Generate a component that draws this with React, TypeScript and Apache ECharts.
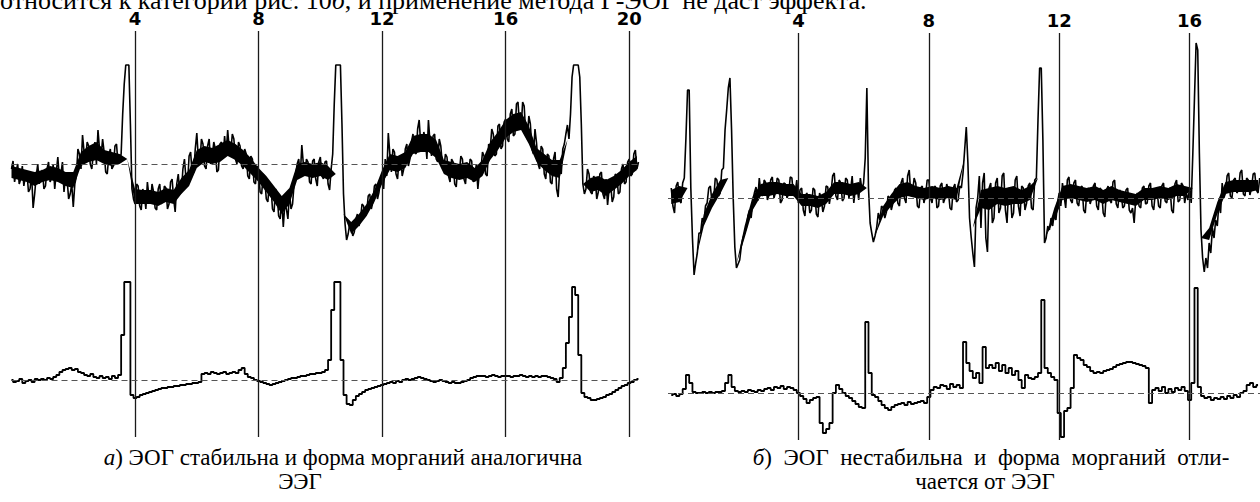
import React, { useEffect, useRef } from "react";
import * as echarts from "echarts";

// time ticks (s) shown above each panel
const leftTicks = [4, 8, 12, 16, 20];
const rightTicks = [4, 8, 12, 16];

// sampling steps (s) of the traces
const eegStep = 0.05;
const eogStep = 0.1;
const coreStep = 0.25;
const leftT0 = 0.0;
const rightT0 = 0.1;

// panel a: upper trace (EEG, noisy) — amplitude above its dashed baseline, one row per second
const leftEEG = [
  -5, 3, -18, -8, 0, -20, -15, -2, -22, -12, -8, -28, -25, -10, -44, -30, -12, 0, -20, -10,
  -6, -25, -22, -5, 2, -18, -14, 0, -25, -8, 7, -15, -10, 2, -28, -12, -15, -35, -30, -20,
  -43, -20, -12, 15, 10, -5, 29, 12, 5, 22, 18, 0, -5, 10, 22, 0, 34, 15, 8, 25,
  12, -8, -10, 8, 15, -5, -2, 18, 20, 0, 5, 10, 50, 80, 99, 99, 99, 40, -25, -35,
  -40, -20, -22, -42, -46, -25, -30, -45, -18, -32, -38, -20, -28, -44, -46, -25, -20, -40, -35, -22,
  -24, -45, -40, -18, -15, -35, -48, -20, -10, -30, -28, -5, 5, -15, -20, 8, 12, -10, -8, 15,
  31, 5, 2, 25, 20, -2, -5, 18, 25, 0, 8, 22, 15, -8, -6, 20, 22, 5, 28, 10,
  34, 15, 12, 30, 25, 5, 0, 22, 18, -2, -5, 15, 10, -12, -15, 8, 5, -18, -20, -2,
  -8, -28, -30, -10, -15, -35, -38, -18, -22, -45, -48, -25, -30, -52, -55, -35, -63, -40, -45, -55,
  -28, -45, -40, -20, -10, 0, 5, -12, 19, 0, -10, 5, 2, -18, -20, 3, 5, -15, -22, 2,
  7, -12, -15, 2, 3, -20, -26, -5, 10, 60, 99, 99, 99, 99, 40, -30, -60, -76, -70, -60,
  -62, -72, -68, -55, -50, -62, -55, -40, -42, -52, -48, -32, -30, -45, -38, -22, -20, -35, -28, -15,
  -10, -25, 5, -12, 31, 10, -8, 15, 12, -10, -15, 5, 8, -12, -5, 15, 20, -2, 5, 22,
  30, 12, 10, 35, 44, 20, 15, 32, 25, 5, 44, 22, 8, 28, 30, 5, 2, 25, 18, 0,
  -5, 10, 7, -12, -18, 5, 2, -20, -23, -2, -8, 8, 5, -15, -20, 0, -10, 5, 3, -18,
  -15, 0, -25, -8, -5, 12, 8, -10, -12, 20, 15, 35, 30, 8, 10, 38, 40, 15, 18, 42,
  45, 25, 22, 50, 55, 28, 30, 60, 62, 38, 35, 62, 58, 30, 25, 48, 40, 15, 10, 35,
  21, 0, -5, 18, 15, -10, -15, 10, 8, -18, -20, 5, 12, -25, -33, -5, -10, 15, 20, 30,
  39, 25, 50, 87, 99, 99, 99, 99, 87, 40, -20, -30, -25, -5, -10, -28, -30, -12, -15, -35,
  -28, -10, -8, -30, -35, -15, -41, -25, -20, -38, -33, -10, -12, -30, -28, -5, 0, -20, -18, 2,
  5, -12, -10, 10, 14, -5, 2,
];

// panel a, upper trace: solid dark core of the noise band (low / high edge), every 0.25 s
const leftCoreLow = [
  -14, -16, -18, -22, -18, -16, -18, -22, -24, -2, 2, 4, 0, -2, 0, 5,
  -40, -40, -40, -42, -38, -40, -30, -22, -4, 2, 0, 2, 8, 4, -2, -10,
  -18, -28, -38, -50, -40, -16, -12, -14, -12, -16, -10, -50, -70, -62, -52, -38,
  -20, -6, -8, -4, 10, 12, 12, 6, -10, -14, -16, -14, -18, -12, 4, 14,
  26, 32, 34, 20, 2, -6, -12, -14, 24, 30, -20, -28, -26, -32, -26, -20,
  -12, -6,
];
const leftCoreHigh = [
  -2, -4, -6, -8, -6, -2, -4, -8, -8, 12, 18, 22, 14, 12, 10, 5,
  -25, -26, -26, -28, -24, -26, -14, -6, 14, 18, 16, 20, 24, 20, 14, 6,
  -4, -12, -22, -32, -24, 0, 2, 0, 2, -2, -10, -50, -58, -50, -40, -26,
  -6, 10, 8, 12, 28, 30, 30, 24, 4, 2, 0, 2, -4, 4, 22, 32,
  44, 50, 52, 38, 16, 10, 4, 4, 24, 30, -20, -14, -12, -16, -12, -6,
  2, 8,
];

// panel a: lower trace (EOG)
const leftEOG = [
  0, -2, -1, 1, -3, -1, 0, -2, 1, 0,
  1, 0, 2, 1, 3, 5, 8, 10, 11, 12,
  10, 11, 8, 7, 5, 4, 6, 3, 2, 4,
  2, 3, 1, 4, 2, 5, 45, 98, 98, -15,
  -18, -17, -15, -14, -13, -12, -11, -10, -9, -8,
  -8, -7, -7, -6, -6, -5, -5, -4, -4, -3,
  -3, -2, 6, 7, 6, 8, 7, 6, 7, 8,
  6, 7, 8, 7, 10, 12, 6, 3, 2, 0,
  -1, -2, -3, -4, -5, -4, -3, -2, -1, 0,
  1, 2, 2, 3, 4, 4, 5, 6, 6, 7,
  7, 8, 10, 20, 70, 98, 98, 20, -15, -24,
  -25, -20, -16, -14, -12, -10, -9, -8, -7, -6,
  -5, -4, -3, -2, -3, -1, -2, 0, 1, 0,
  1, 2, 3, 2, 1, 0, -1, -2, -1, 0,
  -1, -2, -3, -2, -3, -3, -2, -1, 0, 2,
  3, 4, 4, 4, 3, 4, 5, 4, 3, 4,
  4, 4, 3, 4, 4, 5, 4, 3, 4, 3,
  4, 3, 4, 4, 3, 2, 1, -2, 2, 12,
  37, 63, 93, 85, 25, -13, -17, -18, -20, -20,
  -19, -18, -17, -15, -14, -12, -10, -8, -6, -5,
  -3, -2, 0, 1,
];

// panel b: upper trace (EEG), from t = 0.1 s
const rightEEG = [
  10, -8, -15, 12, 16, -2, -5, 15, 20, 60, 108, 108, 10, -40, -77, -65, -55, -35,
  -35, -20, -25, -8, -5, 10, 12, -5, -2, 20, 18, 2, 5, 28, 30, 68, 88, 110, 120, 68,
  0, -49, -70, -66, -62, -48, -40, -35, -30, -18, -12, -20, -5, 5, 11, -3, 20, 5, 2, 18,
  15, -2, 3, 18, 21, 0, 6, 20, 18, -5, -2, 15, 14, 0, 4, 21, 20, 2, 5, 18,
  -5, 8, 10, -12, -18, 5, 2, -15, -12, 10, 8, -16, -19, 5, 0, -14, -8, 12, 11, -6,
  5, 22, 25, 2, -2, 18, 15, -3, 0, 20, 18, 0, 8, 22, -5, 10, 12, -2, 20, 8,
  15, 40, 110, 10, -25, -35, -44, -38, -30, -15, -22, -8, -10, -20, -14, 2, 0, -12, -5, 8,
  10, -5, -8, 15, 20, 0, -5, 22, 28, 2, 5, 20, 15, -8, -10, 10, 12, -5, 2, 18,
  18, 0, -5, 10, 12, -10, -8, 12, 15, -5, 0, 14, 8, -10, -12, 10, 14, -4, -2, 12,
  10, 25, 48, 71, 35, -20, -39, -55, -69, -10, 0, 22, -30, 15, 25, -40, -54, 10, 15, -25,
  -20, 15, 20, -15, -10, 22, 25, -12, -25, 10, 8, -20, -15, 18, 22, -8, -18, 12, 10, -12,
  -5, 12, 15, -10, -12, 18, 20, 78, 130, 130, 58, -45, -40, -28, -32, -20, -28, -15, -22, -5,
  5, -8, 15, 2, -10, 18, 21, -2, -5, 15, 18, -5, -8, 10, 12, -12, -15, 8, 10, -6,
  0, 12, 15, -8, -12, 10, 8, -15, -19, 8, 12, -2, -5, 16, 18, -6, -10, 8, 5, -10,
  -8, 8, 10, -12, -15, -10, -25, 0, 5, -8, -10, 10, 12, -6, -5, 12, 15, -8, -12, 6,
  8, -8, -10, 12, 15, -3, -5, 8, 10, -12, -15, 14, 18, -4, -2, 15, 12, -5, 5, -2,
  10, -5, 45, 100, 155, 148, 45, -32, -60, -74, -60, -70, -45, -55, -30, -40, -22, -28, -5, -15,
  15, 0, 5, 22, 25, 2, 0, 18, 20, 5, 8, 25, 28, 4, 2, 20, 18, 3, 10, 24,
  25, 8, 5, 20,
];

// panel b, upper trace: dark core of the noise band, every 0.25 s from t = 0.1 s
const rightCoreLow = [
  -6, -4, 10, -62, -28, -10, 4, 20, -66, -40, -12, 2,
  2, 4, 2, 2, -8, -8, -10, -6, 4, 4, 2, 4,
  10, -38, -18, -8, 0, 2, 0, -2, 0, -2, 0, -2,
  40, -30, -10, -12, -6, -8, -6, -6, -2, 20, -38, -22,
  -2, 0, -2, -4, -2, -6, -2, -4, -6, -8, -2, -2,
  0, -2, 2, 2, 10, -40, -42, -16, 4, 6, 6, 6,
  8,
];
const rightCoreHigh = [
  8, 12, 10, -62, -16, 4, 18, 20, -66, -28, 2, 14,
  16, 16, 14, 14, 4, 4, 2, 6, 16, 16, 14, 16,
  10, -38, -8, 4, 14, 16, 12, 10, 12, 10, 12, 10,
  40, -30, 8, 10, 12, 10, 12, 8, 12, 20, -38, -10,
  12, 14, 12, 10, 12, 8, 12, 8, 6, 4, 10, 10,
  12, 10, 14, 12, 10, -40, -30, -4, 16, 18, 18, 18,
  18,
];

// panel b: lower trace (EOG), from t = 0.1 s
const rightEOG = [
  -2, -1, -3, -1, 4, 18, 10, 1, 0,
  0, 1, 0, 1, 0, 1, 1, 2, 10, 18,
  6, 2, 1, 2, 1, 3, 2, 1, 3, 2,
  4, 5, 3, 6, 5, 7, 4, 6, 5, 3,
  0, -3, -6, -10, -7, -5, -4, -30, -40, -36,
  -30, 0, 8, 4, 0, -3, -5, -8, -11, -14,
  -15, 71, 20, -2, -4, -8, -12, -15, -17, -14,
  -12, -11, -10, -12, -9, -11, -10, -9, -8, -10,
  -4, 3, 6, 5, 8, 7, 4, 9, 6, 8,
  5, 51, 30, 22, 15, 20, 10, 46, 25, 28,
  25, 30, 22, 28, 20, 25, 18, 22, 13, 5,
  18, 15, 14, 16, 20, 93, 25, 20, 16, 13,
  -20, -44, -18, -15, 5, 38, 35, 33, 28, 26,
  22, 20, 21, 20, 22, 23, 24, 26, 28, 29,
  30, 31, 31, 30, 29, 28, 27, 25, -10, 3,
  5, 2, 6, 0, 4, 1, 5, 3, 6, 2,
  -7, 10, 105, 6, -3, -5, -4, -7, -5, -6,
  -4, -6, -3, -5, -2, -4, 0, 2, 8, 10,
  6, 8,
];

const NB = "\u00A0";
const topText = "относится к категории рис. 10{i|б}, и применение метода Г-ЭОГ не даст эффекта.";
const captionA1 = "{i|а}) ЭОГ стабильна и форма морганий аналогична";
const captionA2 = "ЭЭГ";
const captionB1 = `{i|б})${NB}${NB}ЭОГ${NB}${NB}нестабильна${NB}${NB}и${NB}${NB}форма${NB}${NB}морганий${NB}${NB}отли-`;
const captionB2 = "чается от ЭЭГ";

// layout: vertical offsets (axis units = px) of each trace baseline
const LEFT_TOP_BASE = 273;
const LEFT_BOT_BASE = 57;
const RIGHT_TOP_BASE = 242;
const RIGHT_BOT_BASE = 47;

const tAt = (t0: number, dt: number, i: number) => Math.round((t0 + i * dt) * 1000) / 1000;
function toSeries(vals: number[], t0: number, dt: number, base: number) {
  return vals.map((v, i) => [tAt(t0, dt, i), base + v]);
}

const eegStyle = { color: "#000", width: 1.6 };
const eogStyle = { color: "#000", width: 1.8 };
const vLine = { type: "solid", color: "#1a1a1a", width: 1.3 };
const dashLine = { type: [6, 4], color: "#555", width: 1 };

function axisX(gridIndex: number, max: number, ticks: number[]) {
  return {
    gridIndex,
    type: "value",
    min: 0,
    max,
    position: "top",
    axisLine: { show: false },
    axisTick: { show: false },
    splitLine: { show: false },
    axisLabel: {
      customValues: ticks,
      margin: 4,
      fontFamily: "DejaVu Sans",
      fontWeight: "bold",
      fontSize: 18,
      color: "#000",
    },
  };
}

const serif = "Liberation Serif";
function textEl(text: string, x: number, y: number, size: number, align: string) {
  return {
    type: "text",
    x,
    y,
    style: {
      text,
      fontFamily: serif,
      fontSize: size,
      fill: "#000",
      align,
      verticalAlign: "middle",
      rich: { i: { fontStyle: "italic", fontFamily: serif, fontSize: size, fill: "#000" } },
    },
  };
}

function trace(xi: number, data: number[][], style: any, step: any, extra: any = {}) {
  return {
    type: "line",
    xAxisIndex: xi,
    yAxisIndex: xi,
    data,
    step,
    symbol: "none",
    lineStyle: style,
    clip: false,
    z: 3,
    ...extra,
  };
}

// dark core of a noise band, drawn as one polygon through the axes' coordinates
function core(xi: number, low: number[], high: number[], t0: number, base: number) {
  const upper = high.map((v, i) => [tAt(t0, coreStep, i), base + v]);
  const lower = low.map((v, i) => [tAt(t0, coreStep, i), base + v]).reverse();
  return {
    type: "custom",
    xAxisIndex: xi,
    yAxisIndex: xi,
    silent: true,
    clip: false,
    z: 2,
    data: [upper[0]],
    renderItem: (_params: any, api: any) => ({
      type: "polygon",
      shape: { points: [...upper, ...lower].map((p) => api.coord(p)) },
      style: { fill: "#000" },
    }),
  };
}

export default function App() {
  const ref = useRef<HTMLDivElement>(null);
  useEffect(() => {
    if (!ref.current) return;
    const chart = echarts.init(ref.current, null, { renderer: "svg" });
    const markLines = (ticks: number[], bases: number[]) => ({
      markLine: {
        silent: true,
        symbol: ["none", "none"],
        label: { show: false },
        data: [
          ...ticks.map((v) => ({ xAxis: v, lineStyle: vLine })),
          ...bases.map((b) => ({ yAxis: b, lineStyle: dashLine })),
        ],
      },
    });
    const option: any = {
      animation: false,
      backgroundColor: "#fff",
      grid: [
        { left: 11.5, right: 620, top: 31, bottom: 65, outerBoundsMode: "none" },
        { left: 668, right: 0, top: 33, bottom: 62, outerBoundsMode: "none" },
      ],
      xAxis: [axisX(0, 20.35, leftTicks), axisX(1, 18.16, rightTicks)],
      yAxis: [
        { gridIndex: 0, type: "value", min: 0, max: 406, show: false },
        { gridIndex: 1, type: "value", min: 0, max: 407, show: false },
      ],
      series: [
        core(0, leftCoreLow, leftCoreHigh, leftT0, LEFT_TOP_BASE),
        core(1, rightCoreLow, rightCoreHigh, rightT0, RIGHT_TOP_BASE),
        trace(0, toSeries(leftEEG, leftT0, eegStep, LEFT_TOP_BASE), eegStyle, false,
          markLines(leftTicks, [LEFT_TOP_BASE, LEFT_BOT_BASE])),
        trace(0, toSeries(leftEOG, leftT0, eogStep, LEFT_BOT_BASE), eogStyle, "middle"),
        trace(1, toSeries(rightEEG, rightT0, eegStep, RIGHT_TOP_BASE), eegStyle, false,
          markLines(rightTicks, [RIGHT_TOP_BASE, RIGHT_BOT_BASE])),
        trace(1, toSeries(rightEOG, rightT0, eogStep, RIGHT_BOT_BASE), eogStyle, "middle"),
      ],
      graphic: [
        textEl(topText, 0, 0, 26, "left"),
        textEl(captionA1, 343, 457, 23, "center"),
        textEl(captionA2, 300, 481, 23, "center"),
        textEl(captionB1, 991, 457, 23, "center"),
        textEl(captionB2, 985, 481, 23, "center"),
      ],
    };
    chart.setOption(option);
    return () => chart.dispose();
  }, []);
  return (
    <div
      ref={ref}
      style={{ position: "fixed", left: 0, top: 0, width: 1260, height: 502, background: "#fff" }}
    />
  );
}
